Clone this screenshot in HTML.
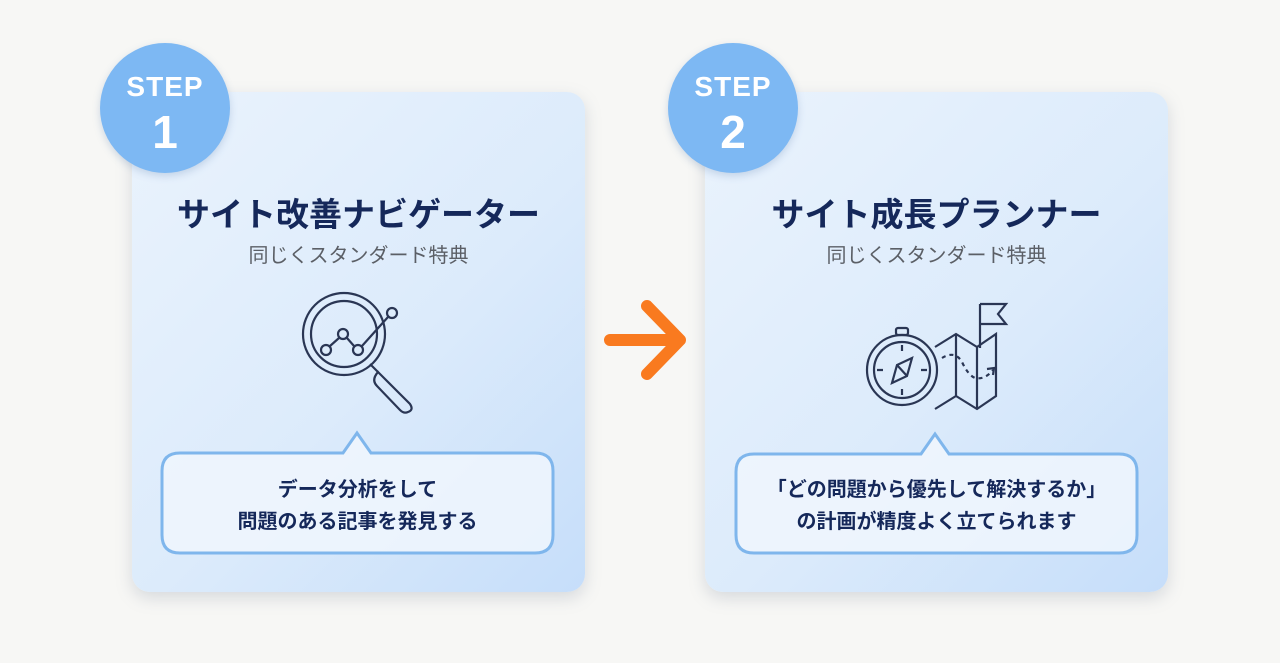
<!DOCTYPE html>
<html><head><meta charset="utf-8"><style>
body{margin:0;width:1280px;height:663px;background:#f7f7f5;position:relative;overflow:hidden;font-family:"Liberation Sans","Noto Sans CJK JP",sans-serif}
.card{position:absolute;top:92px;height:500px;border-radius:18px;background:linear-gradient(135deg,#eaf3fd 0%,#dcebfb 55%,#c6defa 100%);box-shadow:0 6px 16px rgba(120,130,150,.25)}
.circ{position:absolute;width:130px;height:130px;border-radius:50%;background:#7db8f3;color:#fff;text-align:center;font-weight:bold;box-shadow:0 3px 8px rgba(80,120,170,.25)}
.circ .s{position:absolute;top:28px;width:100%;font-size:28px;letter-spacing:1px}
.circ .n{position:absolute;top:62px;width:100%;font-size:46px}
.t{position:absolute;width:100%;text-align:center;font-weight:bold;color:#15285a;font-size:33px;top:96px}
.sub{position:absolute;width:100%;text-align:center;color:#5b5f66;font-size:20px;top:147px}
.b{position:absolute;text-align:center;font-weight:bold;color:#15285a;font-size:20px;line-height:32px}
</style></head><body>
<div class="card" style="left:132px;width:453px">
<div class="t">サイト改善ナビゲーター</div>
<div class="sub">同じくスタンダード特典</div>
</div>
<div class="card" style="left:705px;width:463px">
<div class="t">サイト成長プランナー</div>
<div class="sub">同じくスタンダード特典</div>
</div>
<div class="circ" style="left:100px;top:43px"><div class="s">STEP</div><div class="n">1</div></div>
<div class="circ" style="left:668px;top:43px"><div class="s">STEP</div><div class="n">2</div></div>
<svg width="1280" height="663" style="position:absolute;left:0;top:0" fill="none">
<path d="M180 453 H343 L357 433 L371 453 H535 Q553 453 553 471 V535 Q553 553 535 553 H180 Q162 553 162 535 V471 Q162 453 180 453Z" fill="rgba(240,246,253,.85)" stroke="#7fb6ec" stroke-width="3"/>
<path d="M754 454 H921 L935 434 L949 454 H1119 Q1137 454 1137 472 V535 Q1137 553 1119 553 H754 Q736 553 736 535 V472 Q736 454 754 454Z" fill="rgba(240,246,253,.85)" stroke="#7fb6ec" stroke-width="3"/>
<path d="M610 340 H678 M647 306 L680 340 L647 374" stroke="#f97a1f" stroke-width="12" stroke-linecap="round" stroke-linejoin="round"/>
<g stroke="#2a3654" stroke-width="2.2">
<circle cx="344" cy="334" r="41"/><circle cx="344" cy="334" r="33"/>
<path d="M370 364 L378 372"/><path d="M378 372 L400 394 L410 404 Q414 410 408 412 Q404 414 400 410 L377 386 Q371 380 378 372Z"/>
<circle cx="326" cy="350" r="5"/><circle cx="343" cy="334" r="5"/><circle cx="358" cy="350" r="5"/><circle cx="392" cy="313" r="5"/>
<path d="M330 346 L339 338 M347 338 L354 346 M362 346 L388 317"/>
<circle cx="902" cy="370" r="35"/><circle cx="902" cy="370" r="28"/>
<rect x="896" y="328" width="12" height="7" rx="2"/>
<path d="M902 345v6 M902 389v6 M877 370h6 M921 370h6"/>
<path d="M912 358 L907 376 L892 383 L897 365Z M897 365 L907 376"/>
<path d="M935 347 L956 334 L977 347 L996 334 V396 L977 409 L956 396 L935 409 M956 334 V396 M977 347 V409"/>
<path d="M980 348 V304 M980 304 H1006 L998 314 L1006 324 H980"/>
<path d="M942 358 Q955 350 962 362 Q968 375 975 378 Q985 380 993 370" stroke-dasharray="4 4"/>
<path d="M987 369 L994 368 L993 375"/>
</g>
</svg>
<div class="b" style="left:162px;width:391px;top:474px">データ分析をして<br>問題のある記事を発見する</div>
<div class="b" style="left:736px;width:401px;top:474px">「どの問題から優先して解決するか」<br>の計画が精度よく立てられます</div>
</body></html>
